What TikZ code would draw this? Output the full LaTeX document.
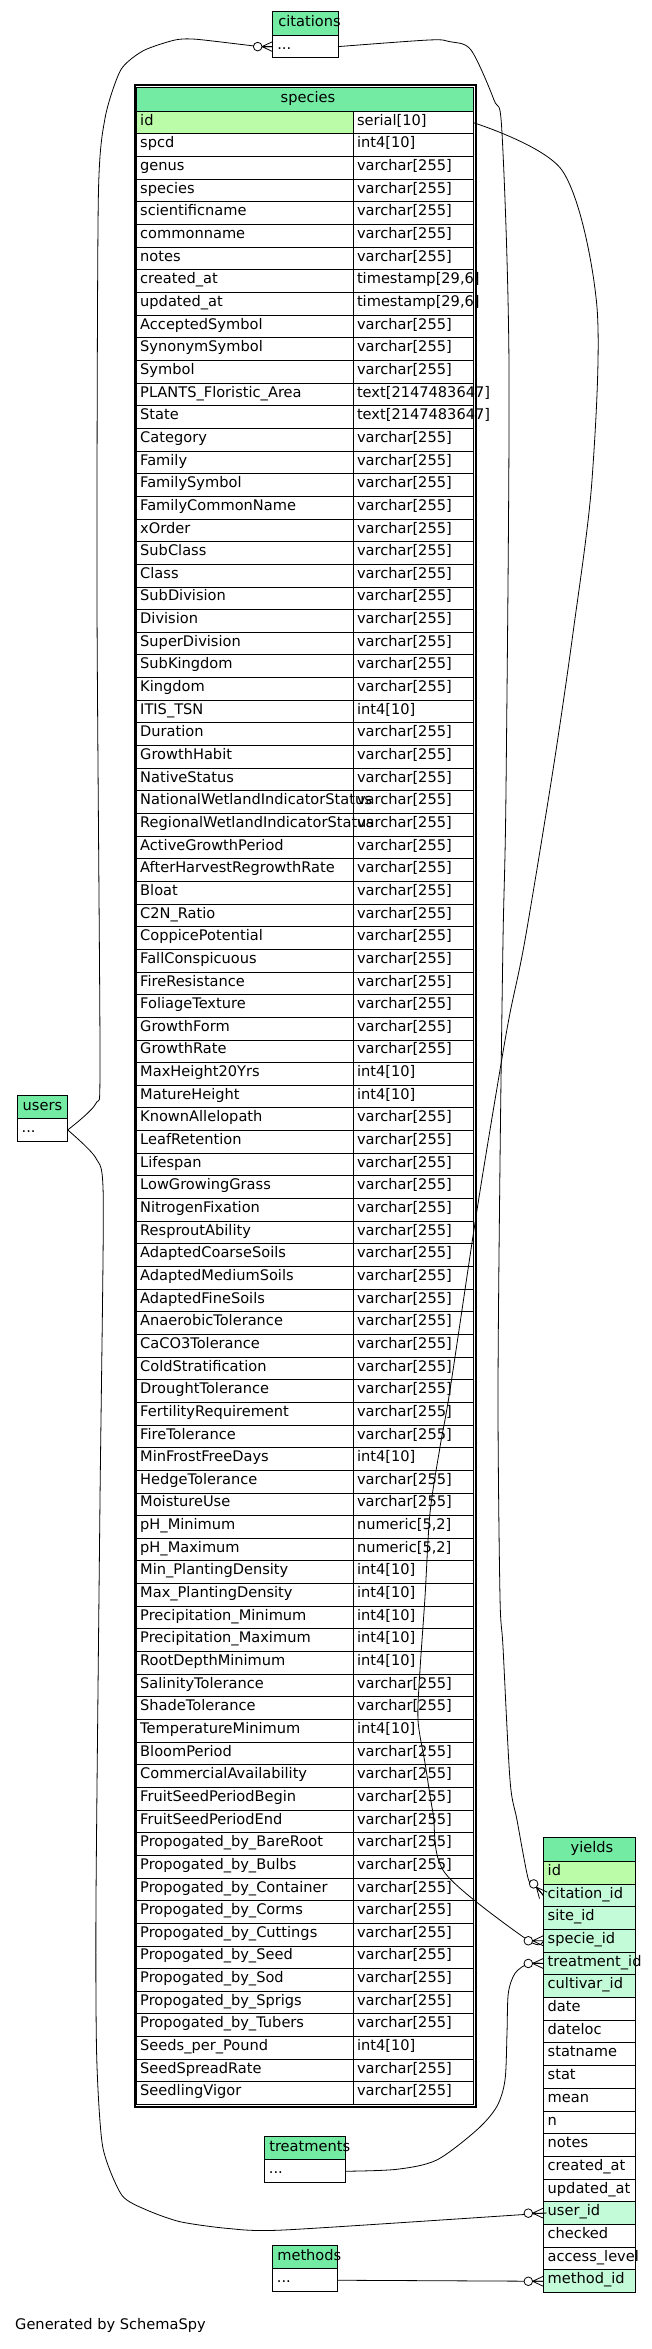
\documentclass[tikz,border=0pt]{standalone}
\usepackage{fontspec}
\setmainfont{DejaVu Sans}
\usetikzlibrary{calc}
\definecolor{hdrg}{HTML}{73EBA2}
\definecolor{pkg}{HTML}{BBFCA8}
\definecolor{fkg}{HTML}{C3FAD8}
\newcommand{\vc}{varchar[255]}
\newcommand{\ifour}{int4[10]}
\newcommand{\tsz}{timestamp[29,6]}
\newcommand{\numf}{numeric[5,2]}
\newcommand{\txtl}{text[2147483647]}
\newcommand{\cellfont}{\fontsize{14.6pt}{17pt}\selectfont}
\newcommand{\cl}[3]{\makebox[#1][l]{\hspace*{#2}#3}}
\newcommand{\crowodot}[2]{%
  \begin{scope}[shift={(#1)},rotate=#2]
    \draw[edge] (-10.7,0) -- (0,-5) (-10.7,0) -- (0,5) (-15,0) -- (0,0);
    \draw[edge,fill=white] (-15,0) circle[radius=4.3];
  \end{scope}}
\tikzset{
  cellbox/.style={draw=black, line width=0.9pt, anchor=north west, inner sep=0pt, outer sep=0pt,
    text height=14pt, text depth=8.65pt, font=\cellfont},
  hdrbox/.style={cellbox, fill=hdrg, text height=15pt, text depth=8.6pt},
  edge/.style={draw=black, line width=0.8pt},
}
\begin{document}
\begin{tikzpicture}[x=1pt,y=-1pt]
\useasboundingbox (0,0) rectangle (651,2349);
\fill[white] (0,0) rectangle (651,2349);

% species
\node[hdrbox, text depth=9pt] (sphd) at (136.7,87.3) {\cl{336.6pt}{144pt}{species}};
\node[cellbox, fill=pkg] (spn1) at (136.7,111.3) {\cl{216.3pt}{3.5pt}{id}};
\node[cellbox] (spt1) at (353,111.3) {\cl{120.3pt}{4pt}{serial[10]}};
\foreach \nm/\ty [count=\i from 2] in {
 spcd/\ifour, genus/\vc, species/\vc, scientificname/\vc, commonname/\vc, notes/\vc,
 created\_at/\tsz, updated\_at/\tsz, AcceptedSymbol/\vc, SynonymSymbol/\vc, Symbol/\vc,
 PLANTS\_Floristic\_Area/\txtl, State/\txtl, Category/\vc, Family/\vc, FamilySymbol/\vc,
 FamilyCommonName/\vc, xOrder/\vc, SubClass/\vc, Class/\vc, SubDivision/\vc, Division/\vc,
 SuperDivision/\vc, SubKingdom/\vc, Kingdom/\vc, ITIS\_TSN/\ifour, Duration/\vc,
 GrowthHabit/\vc, NativeStatus/\vc, NationalWetlandIndicatorStatus/\vc,
 RegionalWetlandIndicatorStatus/\vc, ActiveGrowthPeriod/\vc, AfterHarvestRegrowthRate/\vc,
 Bloat/\vc, C2N\_Ratio/\vc, CoppicePotential/\vc, FallConspicuous/\vc, FireResistance/\vc,
 FoliageTexture/\vc, GrowthForm/\vc, GrowthRate/\vc, MaxHeight20Yrs/\ifour,
 MatureHeight/\ifour, KnownAllelopath/\vc, LeafRetention/\vc, Lifespan/\vc,
 LowGrowingGrass/\vc, NitrogenFixation/\vc, ResproutAbility/\vc, AdaptedCoarseSoils/\vc,
 AdaptedMediumSoils/\vc, AdaptedFineSoils/\vc, AnaerobicTolerance/\vc, CaCO3Tolerance/\vc,
 ColdStratification/\vc, DroughtTolerance/\vc, FertilityRequirement/\vc, FireTolerance/\vc,
 MinFrostFreeDays/\ifour, HedgeTolerance/\vc, MoistureUse/\vc, pH\_Minimum/\numf,
 pH\_Maximum/\numf, Min\_PlantingDensity/\ifour, Max\_PlantingDensity/\ifour,
 Precipitation\_Minimum/\ifour, Precipitation\_Maximum/\ifour, RootDepthMinimum/\ifour,
 SalinityTolerance/\vc, ShadeTolerance/\vc, TemperatureMinimum/\ifour, BloomPeriod/\vc,
 CommercialAvailability/\vc, FruitSeedPeriodBegin/\vc, FruitSeedPeriodEnd/\vc,
 Propogated\_by\_BareRoot/\vc, Propogated\_by\_Bulbs/\vc, Propogated\_by\_Container/\vc,
 Propogated\_by\_Corms/\vc, Propogated\_by\_Cuttings/\vc, Propogated\_by\_Seed/\vc,
 Propogated\_by\_Sod/\vc, Propogated\_by\_Sprigs/\vc, Propogated\_by\_Tubers/\vc,
 Seeds\_per\_Pound/\ifour, SeedSpreadRate/\vc, SeedlingVigor/\vc}
{
  \pgfmathsetmacro{\yy}{111.3+(\i-1)*22.65}
  \node[cellbox] (spn\i) at (136.7,\yy) {\cl{216.3pt}{3.5pt}{\nm}};
  \node[cellbox] (spt\i) at (353,\yy) {\cl{120.3pt}{4pt}{\ty}};
}
\node[draw, line width=1.8pt, anchor=north west, inner sep=0pt, outer sep=0pt,
  minimum width=341pt, minimum height=2021.5pt] (spframe) at (134.6,85.1) {};

% yields
\node[hdrbox] (yhd) at (543.3,1837.7) {\cl{92pt}{27.4pt}{yields}};
\foreach \nm/\fc [count=\i from 0] in {id/pkg, citation\_id/fkg, site\_id/fkg, specie\_id/fkg,
  treatment\_id/fkg, cultivar\_id/fkg, date/white, dateloc/white, statname/white, stat/white,
  mean/white, n/white, notes/white, created\_at/white, updated\_at/white, user\_id/fkg,
  checked/white, access\_level/white, method\_id/fkg}
{
  \pgfmathsetmacro{\yy}{1861.3+\i*22.7}
  \node[cellbox, fill=\fc, text depth=8.7pt] (yr\i) at (543.3,\yy) {\cl{92pt}{4.4pt}{\nm}};
}

% small tables
\node[hdrbox] (cith) at (272.7,11.7) {\cl{65.3pt}{5.6pt}{citations}};
\node[cellbox] (citd) at (272.7,35.3) {\cl{65.3pt}{4.6pt}{...}};
\node[hdrbox] (ush) at (17,1095) {\cl{50.7pt}{5.7pt}{users}};
\node[cellbox] (usd) at (17,1118.6) {\cl{50.7pt}{4.7pt}{...}};
\node[hdrbox] (trh) at (264.3,2136.3) {\cl{81pt}{5pt}{treatments}};
\node[cellbox] (trd) at (264.3,2159.9) {\cl{81pt}{4.6pt}{...}};
\node[hdrbox] (meh) at (272.3,2245.3) {\cl{65pt}{5pt}{methods}};
\node[cellbox] (med) at (272.3,2268.9) {\cl{65pt}{4.6pt}{...}};

% connectors
\draw[edge] plot[smooth,tension=0.4] coordinates {(usd.east) (96,1103.3) (100,1060)
  (97,600) (98.3,200) (105,118.3) (120.7,70) (143.3,50.7) (175,40) (196.7,39.3) (257.3,46.3) (citd.west)};
\draw[edge] plot[smooth,tension=0.4] coordinates {(usd.east) (96,1158.3) (103.3,1200)
  (100,1500) (96,1900) (96.7,2056.7) (102.7,2146.7) (121.7,2195) (146.7,2210) (180,2221.7)
  (226.7,2228.3) (283.3,2230) (528.3,2214.2) (yr15.west)};
\draw[edge] plot[smooth,tension=0.5] coordinates {(citd.east) (429,40) (450,41.7) (471,50) (494,100)
  (502,133) (509,367) (506,790) (503,940) (500,1163) (498,1400) (500,1597) (503,1647) (510,1780)
  (517,1820) (528,1878) (533.7,1884.1) (yr1.west)};
\draw[edge] plot[smooth,tension=0.5] coordinates {(spt1.east) (562.3,170.7) (596.7,304) (592,480)
  (573,633) (553,770) (525,940) (510,1013) (500,1070) (477,1210) (450,1390) (440,1447) (430,1513)
  (425,1597) (420,1670) (418,1720) (425,1763) (433,1813) (445,1873) (528.3,1940.5) (yr3.west)};
\draw[edge] plot[smooth,tension=0.5] coordinates {(trd.east) (396.7,2169.3) (436.7,2160) (476.7,2130)
  (496.7,2106.7) (505,2080) (507,2033) (508.3,1993.3) (515,1973.3) (528.3,1963.6) (yr4.west)};
\draw[edge] (med.east) -- (yr18.west);

\crowodot{citd.west}{0}
\crowodot{yr1.west}{-50}
\crowodot{yr3.west}{0}
\crowodot{yr4.west}{0}
\crowodot{yr15.west}{0}
\crowodot{yr18.west}{0}

\node[anchor=base west, inner sep=0pt, font=\cellfont] (gen) at (15,2329) {Generated by SchemaSpy};
\end{tikzpicture}
\end{document}
